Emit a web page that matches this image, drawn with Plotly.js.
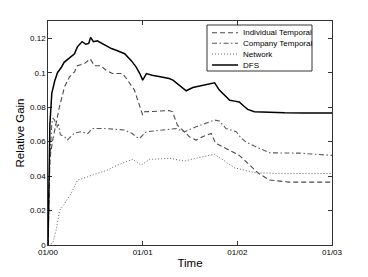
<!DOCTYPE html>
<html>
<head>
<meta charset="utf-8">
<script src="https://cdn.plot.ly/plotly-3.0.1.min.js"></script>
<style>html,body{margin:0;padding:0;background:#fff;}#chart{width:368px;height:277px;}</style>
</head>
<body>
<div id="chart"></div>
<script>
// ---- data (x in axis units: 0 = 01/00 ... 3 = 01/03) ----
var seriesNames = ["Individual Temporal", "Company Temporal", "Network", "DFS"];
var xTickVals = [0, 1, 2, 3];
var xTickText = ["01/00", "01/01", "01/02", "01/03"];
var yTickVals = [0, 0.02, 0.04, 0.06, 0.08, 0.1, 0.12];
var yTickText = ["0", "0.02", "0.04", "0.06", "0.08", "0.1", "0.12"];

var xDFS = [0, 0.01, 0.02, 0.04, 0.07, 0.1, 0.14, 0.17, 0.21, 0.24, 0.28, 0.31, 0.36, 0.4, 0.43,
  0.45, 0.48, 0.52, 0.6, 0.67, 0.72, 0.81, 0.88, 0.93, 0.97, 1.0, 1.04, 1.1, 1.2, 1.28,
  1.32, 1.39, 1.46, 1.53, 1.6, 1.68, 1.76, 1.81, 1.86, 1.92, 1.97, 2.02, 2.07, 2.11, 2.18,
  2.32, 2.5, 2.7, 3.0];
var yDFS = [0, 0.03, 0.07, 0.088, 0.095, 0.1, 0.103, 0.106, 0.108, 0.109, 0.111, 0.115, 0.118, 0.1165, 0.117,
  0.1205, 0.118, 0.1185, 0.116, 0.114, 0.113, 0.111, 0.107, 0.1034, 0.0995, 0.0957, 0.0995, 0.0985, 0.0975, 0.0966,
  0.0957, 0.0925, 0.0895, 0.0914, 0.0922, 0.0932, 0.0941, 0.0899, 0.087, 0.084, 0.0835, 0.083, 0.0805, 0.0787, 0.0773,
  0.0769, 0.0767, 0.0766, 0.0766];

var xIndiv = [0, 0.02, 0.05, 0.12, 0.175, 0.227, 0.28, 0.31, 0.385, 0.446, 0.491, 0.56, 0.614, 0.681, 0.787,
  0.826, 0.913, 0.984, 1.0, 1.02, 1.15, 1.28, 1.315, 1.367, 1.441, 1.494, 1.565, 1.632, 1.724, 1.77,
  1.81, 1.917, 2.02, 2.1, 2.22, 2.34, 2.55, 3.0];
var yIndiv = [0, 0.05, 0.061, 0.08, 0.0918, 0.0976, 0.1005, 0.104, 0.1053, 0.108, 0.104, 0.104, 0.1014, 0.0995, 0.0995,
  0.0968, 0.0899, 0.078, 0.0754, 0.0773, 0.0775, 0.078, 0.0773, 0.0696, 0.0657, 0.0628, 0.0609, 0.0628, 0.0647, 0.059,
  0.058, 0.055, 0.052, 0.048, 0.0417, 0.0377, 0.0365, 0.0365];

var xCompany = [0, 0.02, 0.04, 0.05, 0.07, 0.09, 0.11, 0.13, 0.175, 0.206, 0.28, 0.35, 0.42, 0.47, 0.6,
  0.7, 0.81, 0.89, 0.93, 0.966, 1.037, 1.21, 1.354, 1.441, 1.565, 1.758, 1.81, 1.88, 1.99, 2.04,
  2.1, 2.18, 2.34, 2.66, 3.0];
var yCompany = [0, 0.05, 0.07, 0.0736, 0.0725, 0.068, 0.07, 0.064, 0.0628, 0.061, 0.065, 0.0657, 0.0647, 0.0676, 0.0676,
  0.067, 0.0667, 0.0647, 0.0628, 0.0618, 0.0657, 0.0667, 0.0676, 0.0657, 0.0686, 0.0725, 0.072, 0.0676, 0.0657, 0.062,
  0.0595, 0.0574, 0.0535, 0.0533, 0.052];

var xNetwork = [0, 0.05, 0.087, 0.122, 0.175, 0.245, 0.298, 0.312, 0.417, 0.523, 0.628, 0.734, 0.84, 0.893, 0.984,
  1.072, 1.29, 1.44, 1.6, 1.758, 1.86, 1.93, 1.97, 2.18, 2.45, 3.0];
var yNetwork = [0, 0.001, 0.0087, 0.02, 0.024, 0.03, 0.036, 0.0377, 0.0396, 0.0417, 0.0435, 0.0464, 0.0483, 0.0497, 0.0464,
  0.0497, 0.0503, 0.0487, 0.0508, 0.0526, 0.049, 0.0464, 0.0448, 0.042, 0.0415, 0.0415];

// ---- styles ----
var styles = [
  {color: "#4a4a4a", width: 1.1, dash: "5px,3px"},
  {color: "#5a5a5a", width: 1.1, dash: "5px,2.5px,1.5px,2.5px"},
  {color: "#666666", width: 1, dash: "1px,2px"},
  {color: "#000000", width: 1.5, dash: "solid"}
];
var xs = [xIndiv, xCompany, xNetwork, xDFS];
var ys = [yIndiv, yCompany, yNetwork, yDFS];

var traces = [];
for (var i = 0; i < 4; i++) {
  traces.push({
    x: xs[i], y: ys[i], name: seriesNames[i], type: "scatter", mode: "lines",
    line: {color: styles[i].color, width: styles[i].width, dash: styles[i].dash},
    showlegend: false, hoverinfo: "skip"
  });
}

var W = 368, H = 277, mL = 48, mR = 36, mT = 21, mB = 32;
function px2paperX(p) { return (p - mL) / (W - mL - mR); }
function px2paperY(p) { return (H - mB - p) / (H - mT - mB); }

// custom compact legend (box, line samples, labels)
var shapes = [{
  type: "rect", xref: "paper", yref: "paper",
  x0: px2paperX(207), x1: px2paperX(312), y0: px2paperY(71), y1: px2paperY(25),
  line: {color: "#000", width: 0.8}, fillcolor: "#fff", layer: "above"
}];
var annotations = [];
var legendRows = [32.7, 43.2, 54, 65];
for (var k = 0; k < 4; k++) {
  shapes.push({
    type: "line", xref: "paper", yref: "paper", layer: "above",
    x0: px2paperX(212), x1: px2paperX(238), y0: px2paperY(legendRows[k]), y1: px2paperY(legendRows[k]),
    line: {color: styles[k].color, width: styles[k].width, dash: styles[k].dash}
  });
  annotations.push({
    xref: "paper", yref: "paper", x: px2paperX(240.5), y: px2paperY(legendRows[k]),
    xanchor: "left", yanchor: "middle", showarrow: false, text: seriesNames[k],
    font: {family: "Liberation Sans, Arial, sans-serif", size: 8, color: "#000"}
  });
}

var axisFont = {family: "Liberation Sans, Arial, sans-serif", size: 8, color: "#000"};
var layout = {
  width: W, height: H,
  margin: {l: mL, r: mR, t: mT, b: mB, pad: 0},
  paper_bgcolor: "#fff", plot_bgcolor: "#fff",
  showlegend: false,
  xaxis: {
    range: [0, 3], tickvals: xTickVals, ticktext: xTickText,
    ticks: "inside", ticklen: 4, tickcolor: "#000", tickwidth: 0.8,
    showline: true, linecolor: "#000", linewidth: 0.8, mirror: "ticks",
    showgrid: false, zeroline: false, tickfont: axisFont,
    title: {text: "Time", font: {family: "Liberation Sans, Arial, sans-serif", size: 11.5, color: "#000"}, standoff: 2}
  },
  yaxis: {
    range: [0, 0.13], tickvals: yTickVals, ticktext: yTickText,
    ticks: "inside", ticklen: 4, tickcolor: "#000", tickwidth: 0.8,
    showline: true, linecolor: "#000", linewidth: 0.8, mirror: "ticks",
    showgrid: false, zeroline: false, tickfont: axisFont,
    title: {text: "Relative Gain", font: {family: "Liberation Sans, Arial, sans-serif", size: 11.5, color: "#000"}, standoff: 2}
  },
  shapes: shapes,
  annotations: annotations
};

Plotly.newPlot("chart", traces, layout, {staticPlot: true, displayModeBar: false});
</script>
</body>
</html>
